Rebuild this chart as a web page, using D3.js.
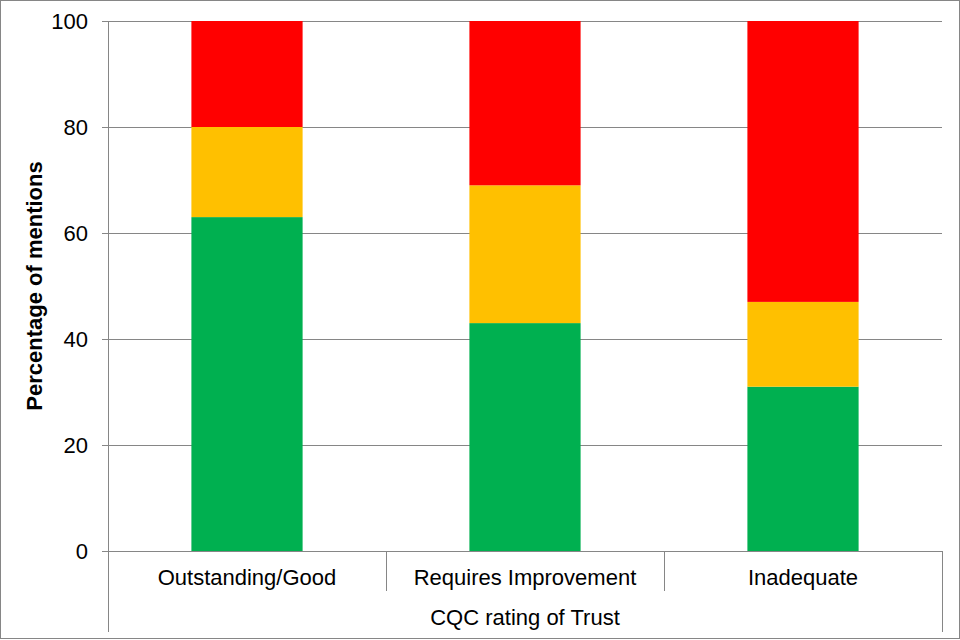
<!DOCTYPE html>
<meta charset="utf-8">
<head>
  <title>CQC rating of Trust</title>
  <script src="https://d3js.org/d3.v7.min.js"></script>
  <style>
    body { margin: 0; }
    svg { display: block; font-family: "Liberation Sans", Arial, sans-serif; }
  </style>
</head>
<body>
<div id="chart"></div>
<script>
// data
var categories = ["Outstanding/Good", "Requires Improvement", "Inadequate"];
var green = [63, 43, 31];
var amber = [17, 26, 16];
var red = [20, 31, 53];
var yTicks = [0, 20, 40, 60, 80, 100];
var groupLabel = "CQC rating of Trust";

var W = 960, H = 640;
var margin = {top: 21, right: 18, bottom: 89, left: 108},
    width = W - margin.left - margin.right,
    height = H - margin.top - margin.bottom;

var svg = d3.select("#chart").append("svg")
    .attr("width", W).attr("height", H);

// outer frame
svg.append("rect")
  .attr("x", 0.5).attr("y", 0.5)
  .attr("width", W - 1).attr("height", H - 2)
  .attr("fill", "white").attr("stroke", "#868686");

var g = svg.append("g")
  .attr("transform", "translate(" + margin.left + "," + margin.top + ")");

var x = d3.scaleBand().domain(categories).range([0, width]).paddingInner(0.6).paddingOuter(0.3);
var y = d3.scaleLinear().domain([0, 100]).range([height, 0]);

// gridlines
g.selectAll(".grid").data(yTicks).enter().append("line")
  .attr("x1", -6).attr("x2", width)
  .attr("y1", function(d) { return Math.round(y(d)) + 0.5; })
  .attr("y2", function(d) { return Math.round(y(d)) + 0.5; })
  .attr("stroke", "#868686").attr("stroke-width", 1);

// stacked bars
var series = [
  {vals: green, color: "#00B050"},
  {vals: amber, color: "#FFC000"},
  {vals: red, color: "#FF0000"}
];
var base = categories.map(function() { return 0; });
series.forEach(function(s) {
  g.selectAll(null).data(categories).enter().append("rect")
    .attr("x", function(d) { return x(d); })
    .attr("width", x.bandwidth())
    .attr("y", function(d, i) { return y(base[i] + s.vals[i]); })
    .attr("height", function(d, i) { return y(base[i]) - y(base[i] + s.vals[i]); })
    .attr("fill", s.color);
  base = base.map(function(b, i) { return b + s.vals[i]; });
});

// y axis labels
g.selectAll(".ylab").data(yTicks).enter().append("text")
  .attr("x", -20)
  .attr("y", function(d) { return y(d); })
  .attr("dy", "0.36em")
  .attr("text-anchor", "end")
  .attr("font-size", "22px")
  .attr("fill", "#000")
  .text(function(d) { return d; });

// y axis line
g.append("line")
  .attr("x1", 0.5).attr("x2", 0.5)
  .attr("y1", 0).attr("y2", height + 81)
  .attr("stroke", "#868686");

// category separators
var step = x.step();
categories.forEach(function(c, i) {
  var xs = Math.round(x(c) - x.step() * x.paddingInner() / 2 + step) + 0.5;
  g.append("line")
    .attr("x1", xs).attr("x2", xs)
    .attr("y1", height).attr("y2", i === categories.length - 1 ? height + 81 : height + 40)
    .attr("stroke", "#868686");
});

// category labels
g.selectAll(".xlab").data(categories).enter().append("text")
  .attr("x", function(d) { return x(d) + x.bandwidth() / 2; })
  .attr("y", height + 34)
  .attr("text-anchor", "middle")
  .attr("font-size", "22px")
  .text(function(d) { return d; });

g.append("text")
  .attr("x", width / 2).attr("y", height + 74)
  .attr("text-anchor", "middle")
  .attr("font-size", "22px")
  .text(groupLabel);

// y title
svg.append("text")
  .attr("transform", "translate(42," + (margin.top + height / 2) + ") rotate(-90)")
  .attr("text-anchor", "middle")
  .attr("font-size", "22px")
  .attr("font-weight", "bold")
  .text("Percentage of mentions");
</script>
</body>
